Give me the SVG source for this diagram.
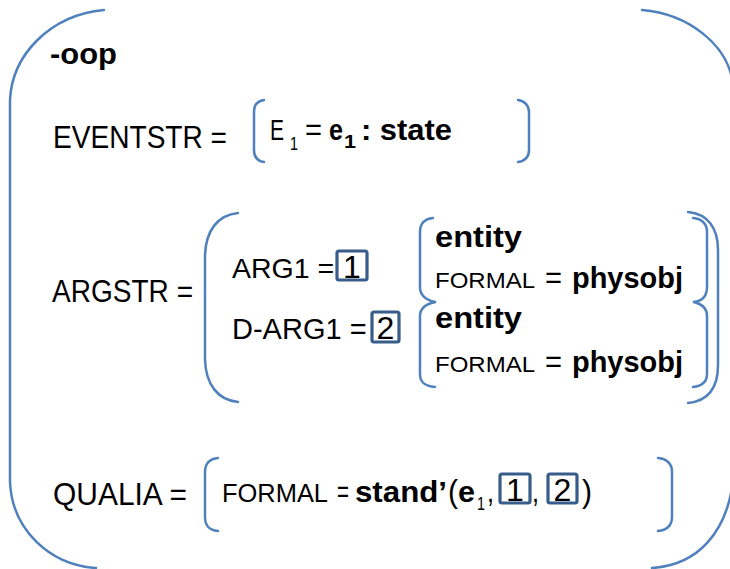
<svg xmlns="http://www.w3.org/2000/svg" width="730" height="569" viewBox="0 0 730 569">
<style>
.br{fill:none;stroke:#4f81bd;stroke-width:2.5;stroke-linecap:round}
.bx{fill:none;stroke:#385d8a;stroke-width:3.2}
text{font-family:"Liberation Sans",Arial,sans-serif;fill:#000}
.n{font-size:32px}
.b{font-size:29px;font-weight:bold}
.s{font-size:19px}
.sm{font-size:22px}
</style>
<rect width="730" height="569" fill="#fff"/>
<g id="outer">
<path class="br" d="M104,10 C50,15 12,55 10,100 L10,482 C12,530 50,565 96,568"/>
<path class="br" d="M642,10 C690,14 725,45 732,78"/>
<path class="br" d="M652,568 C700,565 725,530 732,488"/>
<text x="50" y="64" class="b" textLength="67" lengthAdjust="spacingAndGlyphs">-oop</text>
</g>
<g id="eventstr">
<text x="53" y="148" class="n" textLength="174" lengthAdjust="spacingAndGlyphs">EVENTSTR =</text>
<path class="br" d="M264,100 C257,101 254,106 254,112 L254,150 C254,157 257,161 264,162"/>
<path class="br" d="M518,100 C525,101 529,106 529,112 L529,150 C529,157 525,161 518,162"/>
<text x="270" y="140" font-size="29px" textLength="14" lengthAdjust="spacingAndGlyphs">E</text>
<text x="290" y="150" class="s" textLength="8" lengthAdjust="spacingAndGlyphs">1</text>
<text x="305" y="140" class="n" textLength="17" lengthAdjust="spacingAndGlyphs">=</text>
<text x="329" y="140" class="b" textLength="14" lengthAdjust="spacingAndGlyphs">e</text>
<text x="344" y="148" class="s" font-weight="bold" textLength="12" lengthAdjust="spacingAndGlyphs">1</text>
<text x="361" y="140" class="b" textLength="91" lengthAdjust="spacingAndGlyphs">: state</text>
</g>
<g id="argstr">
<text x="52" y="302" class="n" textLength="141" lengthAdjust="spacingAndGlyphs">ARGSTR =</text>
<path class="br" d="M238,213 C218,215 206,230 205,255 L205,360 C206,385 218,400 238,402"/>
<path class="br" d="M688,212 C708,214 718,228 718,250 L718,365 C718,388 708,401 688,403"/>
<text x="232" y="278" font-size="28.5px">ARG1 =</text>
<rect class="bx" x="337" y="251" width="30" height="29" rx="2"/>
<text x="352" y="278" class="n" text-anchor="middle">1</text>
<text x="232" y="339" font-size="29px">D-ARG1 =</text>
<rect class="bx" x="372" y="312" width="27" height="30" rx="2"/>
<text x="385.5" y="339" class="n" text-anchor="middle">2</text>
</g>
<g id="entity1">
<path class="br" d="M433,218 C424,219 420,224 420,232 L420,287 C420,296 426,300 435,302"/>
<path class="br" d="M693,218 C702,219 707,224 707,232 L707,287 C707,296 702,301 694,302"/>
<text x="435" y="247" class="b" textLength="87" lengthAdjust="spacingAndGlyphs">entity</text>
<text x="435" y="288" class="sm" textLength="100" lengthAdjust="spacingAndGlyphs">FORMAL</text>
<text x="545" y="288" class="n" textLength="17" lengthAdjust="spacingAndGlyphs">=</text>
<text x="572" y="288" class="b" textLength="111" lengthAdjust="spacingAndGlyphs">physobj</text>
</g>
<g id="entity2">
<path class="br" d="M435,302 C426,304 420,308 420,316 L420,374 C420,382 424,386 435,387"/>
<path class="br" d="M694,302 C702,304 707,308 707,316 L707,374 C707,382 702,386 693,387"/>
<text x="435" y="328" class="b" textLength="87" lengthAdjust="spacingAndGlyphs">entity</text>
<text x="435" y="372" class="sm" textLength="100" lengthAdjust="spacingAndGlyphs">FORMAL</text>
<text x="545" y="372" class="n" textLength="17" lengthAdjust="spacingAndGlyphs">=</text>
<text x="572" y="372" class="b" textLength="111" lengthAdjust="spacingAndGlyphs">physobj</text>
</g>
<g id="qualia">
<text x="53" y="505" class="n" textLength="134" lengthAdjust="spacingAndGlyphs">QUALIA =</text>
<path class="br" d="M218,458 C209,459 205,464 205,472 L205,517 C205,526 209,530 218,531"/>
<path class="br" d="M658,458 C667,459 672,464 672,472 L672,517 C672,526 667,530 658,531"/>
<text x="222" y="502" font-size="26px" textLength="106" lengthAdjust="spacingAndGlyphs">FORMAL</text>
<text x="337" y="502" class="n" textLength="12" lengthAdjust="spacingAndGlyphs">=</text>
<text x="355" y="502" class="b" textLength="92" lengthAdjust="spacingAndGlyphs">stand’</text>
<text x="448" y="502" class="n" textLength="10" lengthAdjust="spacingAndGlyphs">(</text>
<text x="458" y="502" class="b" textLength="17" lengthAdjust="spacingAndGlyphs">e</text>
<text x="477" y="510" class="s" textLength="8" lengthAdjust="spacingAndGlyphs">1</text>
<text x="487" y="502" class="n" textLength="7" lengthAdjust="spacingAndGlyphs">,</text>
<rect class="bx" x="500" y="474" width="30" height="29" rx="2"/>
<text x="515" y="501" class="n" text-anchor="middle">1</text>
<text x="532" y="502" class="n" textLength="7" lengthAdjust="spacingAndGlyphs">,</text>
<rect class="bx" x="548" y="474" width="29" height="29" rx="2"/>
<text x="562.5" y="501" class="n" text-anchor="middle">2</text>
<text x="582" y="502" class="n" textLength="10" lengthAdjust="spacingAndGlyphs">)</text>
</g>
</svg>
